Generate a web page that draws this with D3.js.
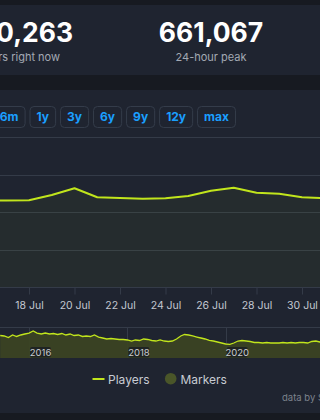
<!DOCTYPE html>
<html>
<head>
<meta charset="utf-8">
<script src="https://cdn.jsdelivr.net/npm/d3@7"></script>
<style>
  html, body { margin: 0; padding: 0; background: #171a21; overflow: hidden; }
  svg { display: block; font-family: Inter, "Noto Sans", "DejaVu Sans", sans-serif; }
</style>
</head>
<body>
<svg id="chart" width="320" height="420"></svg>
<script>
// headline stats
const statValues = ["540,263", "661,067"];
const statLabels = ["players right now", "24-hour peak"];

// range buttons
const rangeButtons = ["6m", "1y", "3y", "6y", "9y", "12y", "max"];

// daily players, July (thousands)
const dayDates = ["2021-07-16", "2021-07-17", "2021-07-18", "2021-07-19", "2021-07-20", "2021-07-21",
  "2021-07-22", "2021-07-23", "2021-07-24", "2021-07-25", "2021-07-26", "2021-07-27",
  "2021-07-28", "2021-07-29", "2021-07-30", "2021-07-31"];
const dayPlayers = [573, 577, 578, 613, 658, 598, 593, 589, 591, 607, 642, 661, 629, 622, 598, 593];
const yTicks = [250, 500, 750, 1000];
const xTickLabels = ["2021-07-18", "2021-07-20", "2021-07-22", "2021-07-24", "2021-07-26", "2021-07-28", "2021-07-30"];

// navigator: monthly average players (thousands), starting Jun 2015
const navStart = "2015-06-01";
const navPlayers = [726, 710, 661, 742, 694, 742, 774, 806, 871, 806, 774, 806, 774, 790, 758, 790,
  742, 774, 726, 742, 694, 710, 694, 742, 677, 645, 613, 629, 613, 597, 597, 581, 548, 581, 565,
  613, 597, 565, 548, 581, 548, 532, 548, 613, 710, 758, 742, 710, 677, 645, 613, 565, 548, 516,
  484, 452, 442, 484, 548, 565, 548, 532, 500, 500, 484, 500, 484, 484, 484, 500, 484, 500, 484,
  500, 500, 484, 532, 548, 516, 516, 516];
const navYears = ["2016", "2018", "2020"];

const legendItems = ["Players", "Markers"];

const parse = d3.timeParse("%Y-%m-%d");
const svg = d3.select("#chart");

// background cards
svg.append("rect").attr("x", 0).attr("y", 5).attr("width", 320).attr("height", 70).attr("fill", "#1f2430");
svg.append("rect").attr("x", 0).attr("y", 90).attr("width", 320).attr("height", 323).attr("fill", "#1f2430");

// stats
statValues.forEach(function (v, i) {
  let anchor = i === 0 ? "end" : "middle";
  let xv = i === 0 ? 73 : 211;
  let xl = i === 0 ? 60 : 211;
  svg.append("text").attr("x", xv).attr("y", 42).attr("text-anchor", anchor)
    .attr("font-size", 26.5).attr("font-weight", 700).attr("fill", "#ffffff").text(v);
  svg.append("text").attr("x", xl).attr("y", 61).attr("text-anchor", anchor)
    .attr("font-size", 11).attr("fill", "#a3a9b3").text(statLabels[i]);
});

// buttons
let btnG = svg.append("g");
let btns = rangeButtons.map(function (label) {
  let g = btnG.append("g");
  let t = g.append("text").attr("y", 121).attr("text-anchor", "middle")
    .attr("font-size", 12).attr("font-weight", 700).attr("fill", "#1a9fff").text(label);
  return { g: g, t: t, w: t.node().getComputedTextLength() + 14.1 };
});
let bx = 29.5 - 3.9 - btns[0].w;
btns.forEach(function (b) {
  b.g.insert("rect", "text").attr("x", bx + 0.5).attr("y", 106.5).attr("width", b.w - 1).attr("height", 21)
    .attr("rx", 4).attr("fill", "none").attr("stroke", "#343c4a");
  b.t.attr("x", bx + b.w / 2);
  bx += b.w + 3.9;
});

// main chart
const x = d3.scaleTime().domain([parse("2021-07-18"), parse("2021-07-30")]).range([29, 302]);
const y = d3.scaleLinear().domain([0, 1000]).range([287, 137]);

svg.append("g").selectAll("line").data(yTicks).join("line")
  .attr("x1", 0).attr("x2", 320)
  .attr("y1", d => Math.round(y(d)) + 0.5).attr("y2", d => Math.round(y(d)) + 0.5)
  .attr("stroke", "#343b48");

const days = dayDates.map((d, i) => ({ date: parse(d), v: dayPlayers[i] }));

svg.append("path").datum(days)
  .attr("fill", "#c1e51c").attr("fill-opacity", 0.045)
  .attr("d", d3.area().x(d => x(d.date)).y0(y(0)).y1(d => y(d.v)));
svg.append("path").datum(days)
  .attr("fill", "none").attr("stroke", "#c1e51c").attr("stroke-width", 2).attr("stroke-linejoin", "round")
  .attr("d", d3.line().x(d => x(d.date)).y(d => y(d.v)));

const xAxis = d3.axisBottom(x).tickValues(xTickLabels.map(parse))
  .tickFormat(d3.timeFormat("%-d %b")).tickSize(7).tickSizeOuter(0);
let ax = svg.append("g").attr("transform", "translate(0,287.5)").call(xAxis);
ax.select(".domain").attr("d", "M-10,0H330").attr("stroke", "#343b48");
ax.selectAll(".tick line").attr("stroke", "#343b48");
ax.selectAll(".tick text").attr("fill", "#c3c8d0").attr("font-size", 10.5).attr("dy", "1.1em")
  .attr("font-family", "Inter, 'Noto Sans', sans-serif");

// navigator
const navData = navPlayers.map((v, i) => ({ date: d3.timeMonth.offset(parse(navStart), i), v: v }));
const nx = d3.scaleTime().domain([parse("2016-01-01"), parse("2020-01-01")]).range([29, 225.7]);
const ny = d3.scaleLinear().domain([0, 1000]).range([358, 327]);

svg.append("line").attr("x1", 0).attr("x2", 320).attr("y1", 327.5).attr("y2", 327.5).attr("stroke", "#343b48");
svg.append("g").selectAll("line").data(navYears).join("line")
  .attr("x1", d => Math.round(nx(parse(d + "-01-01"))) + 0.5).attr("x2", d => Math.round(nx(parse(d + "-01-01"))) + 0.5)
  .attr("y1", 327.5).attr("y2", 358).attr("stroke", "#343b48");

svg.append("path").datum(navData)
  .attr("fill", "#3b4323").attr("fill-opacity", 0.95)
  .attr("d", d3.area().x(d => nx(d.date)).y0(ny(0)).y1(d => ny(d.v)));
svg.append("path").datum(navData)
  .attr("fill", "none").attr("stroke", "#c1e51c").attr("stroke-width", 1.3)
  .attr("d", d3.line().x(d => nx(d.date)).y(d => ny(d.v)));

let yl = svg.append("g").selectAll("g").data(navYears).join("g")
  .attr("transform", d => "translate(" + (nx(parse(d + "-01-01")) + 1) + ",347)");
yl.append("rect").attr("width", 21).attr("height", 10.5).attr("rx", 2).attr("fill", "#1b1e22").attr("fill-opacity", 0.85);
yl.append("text").attr("x", 10.5).attr("y", 8.6).attr("text-anchor", "middle")
  .attr("font-size", 9.5).attr("fill", "#c9cccf").text(d => d);

// legend
let lg = svg.append("g");
lg.append("line").attr("x1", 92.5).attr("x2", 104.5).attr("y1", 379).attr("y2", 379)
  .attr("stroke", "#c1e51c").attr("stroke-width", 2);
lg.append("text").attr("x", 108).attr("y", 383.5).attr("font-size", 12).attr("fill", "#c8ccd3").text(legendItems[0]);
lg.append("circle").attr("cx", 170.7).attr("cy", 378.7).attr("r", 5.8).attr("fill", "#4a5629");
lg.append("text").attr("x", 180.5).attr("y", 383.5).attr("font-size", 12).attr("fill", "#c8ccd3").text(legendItems[1]);

svg.append("text").attr("x", 282).attr("y", 400.5).attr("font-size", 9.5).attr("fill", "#7d838d").text("data by SteamDB.info");
</script>
</body>
</html>
